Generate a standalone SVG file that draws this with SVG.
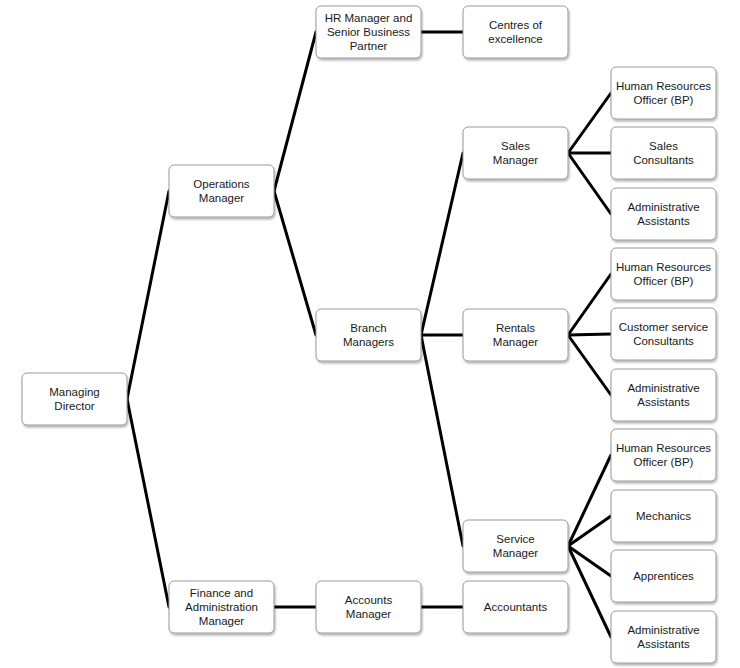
<svg xmlns="http://www.w3.org/2000/svg" width="740" height="668" viewBox="0 0 740 668">
<defs>
<filter id="sh" x="-10%" y="-10%" width="130%" height="140%">
<feDropShadow dx="1" dy="2" stdDeviation="1" flood-color="#000" flood-opacity="0.3"/>
</filter>
<style>
.b rect{fill:#fff;stroke:#9a9a9a;stroke-width:1;filter:url(#sh)}
.b text{font-family:"Liberation Sans",Arial,sans-serif;font-size:11.5px;fill:#1a1a1a;text-anchor:middle}
.c line{stroke:#000;stroke-width:3;stroke-linecap:round}
</style>
</defs>
<rect width="740" height="668" fill="#fff"/>
<g class="c" id="connectors">
<line x1="127" y1="399" x2="169" y2="191"/>
<line x1="127" y1="399" x2="169" y2="607"/>
<line x1="274" y1="191" x2="316" y2="32"/>
<line x1="274" y1="191" x2="316" y2="335"/>
<line x1="421" y1="32" x2="463" y2="32"/>
<line x1="421" y1="335" x2="463" y2="153"/>
<line x1="421" y1="335" x2="463" y2="335"/>
<line x1="421" y1="335" x2="463" y2="546"/>
<line x1="568" y1="153" x2="611" y2="93"/>
<line x1="568" y1="153" x2="611" y2="153"/>
<line x1="568" y1="153" x2="611" y2="214"/>
<line x1="568" y1="335" x2="611" y2="274"/>
<line x1="568" y1="335" x2="611" y2="334"/>
<line x1="568" y1="335" x2="611" y2="395"/>
<line x1="568" y1="546" x2="611" y2="455"/>
<line x1="568" y1="546" x2="611" y2="516"/>
<line x1="568" y1="546" x2="611" y2="576"/>
<line x1="568" y1="546" x2="611" y2="637"/>
<line x1="274" y1="607" x2="316" y2="607"/>
<line x1="421" y1="607" x2="463" y2="607"/>
</g>
<g class="b" id="managing-director"><rect x="22" y="373" width="105" height="52" rx="5"/><text x="74.5" y="396">Managing</text><text x="74.5" y="410">Director</text></g>
<g class="b" id="operations-manager"><rect x="169" y="165" width="105" height="52" rx="5"/><text x="221.5" y="188">Operations</text><text x="221.5" y="202">Manager</text></g>
<g class="b" id="finance-admin-manager"><rect x="169" y="581" width="105" height="52" rx="5"/><text x="221.5" y="597">Finance and</text><text x="221.5" y="611">Administration</text><text x="221.5" y="625">Manager</text></g>
<g class="b" id="hr-manager"><rect x="316" y="6" width="105" height="52" rx="5"/><text x="368.5" y="22">HR Manager and</text><text x="368.5" y="36">Senior Business</text><text x="368.5" y="50">Partner</text></g>
<g class="b" id="branch-managers"><rect x="316" y="309" width="105" height="52" rx="5"/><text x="368.5" y="332">Branch</text><text x="368.5" y="346">Managers</text></g>
<g class="b" id="accounts-manager"><rect x="316" y="581" width="105" height="52" rx="5"/><text x="368.5" y="604">Accounts</text><text x="368.5" y="618">Manager</text></g>
<g class="b" id="centres-of-excellence"><rect x="463" y="6" width="105" height="52" rx="5"/><text x="515.5" y="29">Centres of</text><text x="515.5" y="43">excellence</text></g>
<g class="b" id="sales-manager"><rect x="463" y="127" width="105" height="52" rx="5"/><text x="515.5" y="150">Sales</text><text x="515.5" y="164">Manager</text></g>
<g class="b" id="rentals-manager"><rect x="463" y="309" width="105" height="52" rx="5"/><text x="515.5" y="332">Rentals</text><text x="515.5" y="346">Manager</text></g>
<g class="b" id="service-manager"><rect x="463" y="520" width="105" height="52" rx="5"/><text x="515.5" y="543">Service</text><text x="515.5" y="557">Manager</text></g>
<g class="b" id="accountants"><rect x="463" y="581" width="105" height="52" rx="5"/><text x="515.5" y="611">Accountants</text></g>
<g class="b" id="sales-hr-officer"><rect x="611" y="67" width="105" height="52" rx="5"/><text x="663.5" y="90">Human Resources</text><text x="663.5" y="104">Officer (BP)</text></g>
<g class="b" id="sales-consultants"><rect x="611" y="127" width="105" height="52" rx="5"/><text x="663.5" y="150">Sales</text><text x="663.5" y="164">Consultants</text></g>
<g class="b" id="sales-admin-assistants"><rect x="611" y="188" width="105" height="52" rx="5"/><text x="663.5" y="211">Administrative</text><text x="663.5" y="225">Assistants</text></g>
<g class="b" id="rentals-hr-officer"><rect x="611" y="248" width="105" height="52" rx="5"/><text x="663.5" y="271">Human Resources</text><text x="663.5" y="285">Officer (BP)</text></g>
<g class="b" id="customer-service-consultants"><rect x="611" y="308" width="105" height="52" rx="5"/><text x="663.5" y="331">Customer service</text><text x="663.5" y="345">Consultants</text></g>
<g class="b" id="rentals-admin-assistants"><rect x="611" y="369" width="105" height="52" rx="5"/><text x="663.5" y="392">Administrative</text><text x="663.5" y="406">Assistants</text></g>
<g class="b" id="service-hr-officer"><rect x="611" y="429" width="105" height="52" rx="5"/><text x="663.5" y="452">Human Resources</text><text x="663.5" y="466">Officer (BP)</text></g>
<g class="b" id="mechanics"><rect x="611" y="490" width="105" height="52" rx="5"/><text x="663.5" y="520">Mechanics</text></g>
<g class="b" id="apprentices"><rect x="611" y="550" width="105" height="52" rx="5"/><text x="663.5" y="580">Apprentices</text></g>
<g class="b" id="service-admin-assistants"><rect x="611" y="611" width="105" height="52" rx="5"/><text x="663.5" y="634">Administrative</text><text x="663.5" y="648">Assistants</text></g>
</svg>
